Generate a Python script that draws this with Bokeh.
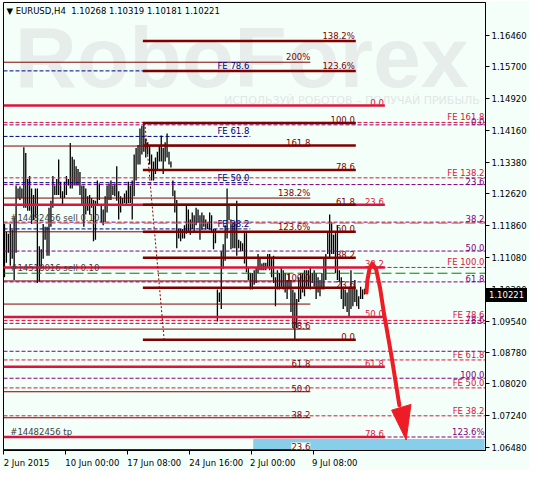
from bokeh.plotting import figure
from bokeh.models import FixedTicker, PrintfTickFormatter, ColumnDataSource, Div
from bokeh.layouts import column
from bokeh.embed import file_html
from bokeh.resources import INLINE
from bokeh.core.properties import value

FONT = "DejaVu Sans"
FS = "8.5px"

# ---------------- data ----------------
title_text = "\u25BC EURUSD,H4\u00a0 1.10268 1.10319 1.10181 1.10221"
last_close = 1.10221

bar_high = [
    1.1189, 1.1170, 1.1165, 1.1189, 1.1175, 1.1205, 1.1282, 1.1275, 1.1280, 1.1275,
    1.1375, 1.1361, 1.1298, 1.1305, 1.1275, 1.1259, 1.1275, 1.1275, 1.1135, 1.1128,
    1.1189, 1.1182, 1.1182, 1.1228, 1.1245, 1.1305, 1.1282, 1.1298, 1.1345, 1.1291,
    1.1268, 1.1291, 1.1305, 1.1298, 1.1385, 1.1352, 1.1345, 1.1329, 1.1322, 1.1315,
    1.1282, 1.1282, 1.1275, 1.1256, 1.1259, 1.1252,
    1.1247, 1.1245, 1.1294, 1.1287, 1.1233, 1.1224, 1.1256, 1.1282, 1.1287, 1.1294,
    1.1282, 1.1287, 1.1329, 1.1268, 1.1256, 1.1252, 1.1263, 1.1270, 1.1291, 1.1282,
    1.1294, 1.1357, 1.1373, 1.1380, 1.1420, 1.1427, 1.1434, 1.1396, 1.1387, 1.1380,
    1.1357, 1.1340, 1.1350, 1.1364, 1.1380, 1.1403, 1.1373, 1.1387, 1.1408, 1.1364,
    1.1340, 1.1294, 1.1270, 1.1247, 1.1177, 1.1177, 1.1177,
    1.1186, 1.1233, 1.1224, 1.1200, 1.1217, 1.1210, 1.1228, 1.1224, 1.1210, 1.1217,
    1.1210, 1.1200, 1.1193, 1.1217, 1.1210, 1.1177, 1.1177, 1.1030, 1.1023, 1.1123,
    1.1140, 1.1186, 1.1275, 1.1235, 1.1200, 1.1193, 1.1193, 1.1245, 1.1151, 1.1147,
    1.1142, 1.1170, 1.1170, 1.1084, 1.1070, 1.1070, 1.1077, 1.1084, 1.1116, 1.1107,
    1.1093, 1.1095, 1.1095, 1.1116, 1.1116, 1.1107, 1.1112,
    1.1060, 1.1077, 1.1070, 1.1084, 1.1077, 1.1070, 1.1053, 1.1070, 1.1053, 1.1030,
    1.1023, 1.1007, 1.1060, 1.1070, 1.1070, 1.1077, 1.1077, 1.1077, 1.1084, 1.1070,
    1.1077, 1.1070, 1.1060, 1.1053, 1.1070, 1.1107, 1.1116, 1.1170, 1.1212, 1.1193,
    1.1163, 1.1170, 1.1186, 1.1077, 1.1060, 1.1037, 1.1030, 1.1023, 1.1037, 1.1077,
    1.1037, 1.1053, 1.1030, 1.1014, 1.1037, 1.1030, 1.10319,
]
bar_low = [
    1.1060, 1.1095, 1.1119, 1.1088, 1.1105, 1.1053, 1.1119, 1.1252, 1.1247, 1.1252,
    1.1228, 1.1228, 1.1221, 1.1221, 1.1189, 1.1198, 1.1205, 1.1046, 1.1049, 1.1081,
    1.1105, 1.1151, 1.1112, 1.1112, 1.1182, 1.1228, 1.1259, 1.1259, 1.1259, 1.1252,
    1.1235, 1.1252, 1.1259, 1.1282, 1.1275, 1.1275, 1.1282, 1.1282, 1.1282, 1.1259,
    1.1235, 1.1182, 1.1212, 1.1221, 1.1212, 1.1228,
    1.1147, 1.1151, 1.1233, 1.1247, 1.1193, 1.1186, 1.1193, 1.1217, 1.1247, 1.1247,
    1.1259, 1.1256, 1.1245, 1.1200, 1.1217, 1.1233, 1.1240, 1.1233, 1.1240, 1.1240,
    1.1200, 1.1256, 1.1294, 1.1333, 1.1333, 1.1357, 1.1364, 1.1350, 1.1357, 1.1333,
    1.1294, 1.1294, 1.1310, 1.1317, 1.1340, 1.1340, 1.1310, 1.1340, 1.1350, 1.1333,
    1.1326, 1.1256, 1.1217, 1.1130, 1.1154, 1.1147, 1.1154,
    1.1154, 1.1165, 1.1170, 1.1163, 1.1177, 1.1170, 1.1186, 1.1193, 1.1151, 1.1175,
    1.1182, 1.1175, 1.1177, 1.1175, 1.1170, 1.1128, 1.1142, 1.0953, 1.1000, 1.0983,
    1.1081, 1.1100, 1.1154, 1.1198, 1.1128, 1.1130, 1.1130, 1.1112, 1.1130, 1.1123,
    1.1123, 1.1093, 1.1072, 1.1053, 1.1030, 1.1030, 1.1042, 1.1046, 1.1070, 1.1077,
    1.1077, 1.1077, 1.1077, 1.1084, 1.1077, 1.1060, 1.1046,
    1.0990, 1.1030, 1.1030, 1.1037, 1.1030, 1.1023, 1.1007, 1.1030, 1.0976, 1.0937,
    1.0909, 1.0937, 1.1000, 1.1007, 1.1023, 1.1014, 1.1037, 1.1037, 1.1030, 1.1046,
    1.1037, 1.1007, 1.1023, 1.1014, 1.1030, 1.1030, 1.1053, 1.1116, 1.1107, 1.1116,
    1.1116, 1.1070, 1.1053, 1.1049, 1.1007, 1.0983, 1.0990, 1.0976, 1.0965, 1.0983,
    1.0990, 1.1000, 1.0990, 1.0983, 1.1007, 1.1007, 1.10181,
]

y_ticks = [1.16460, 1.15700, 1.14920, 1.14160, 1.13380, 1.12620, 1.11860,
           1.11080, 1.10300, 1.09540, 1.08780, 1.08020, 1.07240, 1.06480]
x_tick_labels = ["2 Jun 2015", "10 Jun 00:00", "17 Jun 08:00",
                 "24 Jun 16:00", "2 Jul 00:00", "9 Jul 08:00"]
x_tick_bars = [-0.5, 31.5, 63.5, 95.5, 127.5, 159.5]

# Fibonacci objects (price levels and their captions)
maroon_thick_levels = [1.16320, 1.15597, 1.14337, 1.13788, 1.13194, 1.12354,
                       1.11700, 1.11070, 1.10347, 1.09087]
maroon_thick_labels = ["138.2%", "123.6%", "100.0", "", "78.6", "61.8",
                       "50.0", "38.2", "23.6", "0.0"]
maroon_thin_levels = [1.15807, 1.13777, 1.12517, 1.11700, 1.10510, 1.09950,
                      1.09344, 1.08434, 1.07827, 1.07197, 1.06427]
maroon_thin_labels = ["200%", "161.8", "138.2%", "123.6%", "100.0", "",
                      "78.6", "61.8", "50.0", "38.2", "23.6"]
crimson_levels = [1.14757, 1.12354, 1.10837, 1.09636, 1.08434, 1.06731]
crimson_labels = ["0.0", "23.6", "38.2", "50.0", "61.8", "78.6"]
fe_red_levels = [1.14349, 1.13007, 1.10837, 1.09554, 1.08597, 1.07920, 1.07244]
fe_red_labels = ["FE 161.8", "FE 138.2", "FE 100.0", "FE 78.6", "FE 61.8",
                 "FE 50.0", "FE 38.2"]
purple_levels = [1.14290, 1.12844, 1.11934, 1.11234, 1.10487, 1.09484,
                 1.08807, 1.08154, 1.06731]
purple_labels = ["0.0", "23.6", "38.2", "50.0", "61.8", "78.6", "", "100.0", "123.6%"]
navy_levels = [1.15597, 1.14010, 1.12890, 1.11770]
navy_labels = ["FE 78.6", "FE 61.8", "FE 50.0", "FE 38.2"]
order_sl_level = 1.11910
order_open_level = 1.10697
order_labels = ["#14482456 sell 0.10", "#14518016 sell 0.10", "#14482456 tp"]
order_label_levels = [1.11910, 1.10697, 1.06731]

trend_x = [72.5, 82.5]
trend_y = [1.14337, 1.09087]
zone_x = [128.5, 248.0]
zone_y = [1.06404, 1.06684]

arrow_x = [187, 187.5, 188.5, 190, 192, 194, 196, 200, 204]
arrow_y = [1.1023, 1.1053, 1.1079, 1.1093, 1.1079, 1.1035, 1.0974, 1.0867, 1.0750]
arrowhead_x = [200, 210, 207.5]
arrowhead_y = [1.0738, 1.0752, 1.0666]

# ---------------- figure ----------------
W, H = 529, 470
BL, BR, BT, BB = 3, 44, 2, 19
X0, X1 = -0.5, 248.5
Y0, Y1 = 1.06404, 1.17253
BG = "#F5FFFA"
MAROON = "#800000"
CRIMSON = "#DC143C"
PURPLE = "#800080"
NAVY = "#000080"

p = figure(width=W, height=H, x_range=(X0, X1), y_range=(Y0, Y1),
           output_backend="svg", toolbar_location=None, y_axis_location="right",
           min_border_left=BL, min_border_right=BR, min_border_top=BT, min_border_bottom=BB)
p.background_fill_color = BG
p.border_fill_color = BG
p.outline_line_color = "black"
p.grid.visible = False

# watermark
p.text(x=[122.5], y=[1.15935], text=["RoboForex"], text_font=value("Liberation Sans"),
       text_font_style="bold", text_font_size="86px", text_color="#E6EDEA",
       text_align="center", text_baseline="middle")
p.text(x=[179.5], y=[1.14873], text=["\u0418\u0421\u041f\u041e\u041b\u042c\u0417\u0423\u0419 \u0420\u041e\u0411\u041e\u0422\u041e\u0412 \u2013 \u041f\u041e\u041b\u0423\u0427\u0410\u0419 \u041f\u0420\u0418\u0411\u042b\u041b\u042c"],
       text_font=value(FONT), text_font_size="11px", text_color="#E0E7E4",
       text_align="center", text_baseline="middle")

# take-profit zone
p.quad(left=[zone_x[0]], right=[zone_x[1]], bottom=[Y0 - 0.001], top=[zone_y[1]],
       fill_color="#87CEEB", line_color=None)

# bars
n = len(bar_high)
bars = ColumnDataSource(dict(x=list(range(n)), h=bar_high, l=bar_low))
p.segment(x0="x", y0="l", x1="x", y1="h", source=bars, line_color="black", line_width=1.3)


def hlines(levels, x0, x1, color, width=1, dash="solid"):
    src = ColumnDataSource(dict(y=levels, x0=[x0] * len(levels), x1=[x1] * len(levels)))
    p.segment(x0="x0", y0="y", x1="x1", y1="y", source=src, line_color=color,
              line_width=width, line_dash=dash)


def captions(levels, labels, x, color, align="right", bg=None):
    pairs = [(lv, lb) for lv, lb in zip(levels, labels) if lb]
    src = ColumnDataSource(dict(y=[a for a, _ in pairs], t=[b for _, b in pairs],
                                x=[x] * len(pairs)))
    kw = {}
    if bg:
        kw = dict(background_fill_color=bg)
    p.text(x="x", y="y", text="t", source=src, text_font=value(FONT), text_font_size=FS,
           text_color=color, text_align=align, text_baseline="bottom", **kw)


hlines(purple_levels, X0, X1, PURPLE, 1, "4 2")
hlines(fe_red_levels, X0, X1, CRIMSON, 1, "4 2")
hlines(navy_levels, X0, 127.0, NAVY, 1, "4 2")
hlines([order_sl_level], X0, X1, "#F0501E", 1, "10 4")
hlines([order_open_level], X0, X1, "#008000", 1, "10 4")
hlines(maroon_thin_levels, X0, 158.0, MAROON, 1)
hlines(crimson_levels, X0, 196.5, CRIMSON, 2.5)
hlines(maroon_thick_levels, 71.5, 181.5, MAROON, 2.5)

p.line(trend_x, trend_y, line_color=MAROON, line_width=1, line_dash="2 2")

captions(purple_levels, purple_labels, 248.0, PURPLE)
captions(fe_red_levels, fe_red_labels, 248.0, CRIMSON)
captions(navy_levels, navy_labels, 126.5, NAVY)
captions(maroon_thin_levels[:-1], maroon_thin_labels[:-1], 158.0, MAROON)
captions(maroon_thin_levels[-1:], maroon_thin_labels[-1:], 158.0, MAROON, bg=BG)
captions(crimson_levels, crimson_labels, 196.0, CRIMSON)
captions(maroon_thick_levels, maroon_thick_labels, 181.0, MAROON)
captions(order_label_levels, order_labels, 3.0, "#404040", align="left")

# arrow
p.line(arrow_x, arrow_y, line_color="#EE1C24", line_width=4, line_cap="round",
       line_join="round")
p.patch(arrowhead_x, arrowhead_y, fill_color="#EE1C24", line_color="#EE1C24", line_width=1)

# title
p.text(x=[1.0], y=[1.17043], text=[title_text], text_font=value(FONT), text_font_size=FS,
       text_color="black", text_align="left", text_baseline="middle")

# axes
ya = p.yaxis[0]
ya.ticker = FixedTicker(ticks=y_ticks)
ya.formatter = PrintfTickFormatter(format="%.5f")
ya.major_tick_out = 4
ya.major_tick_in = 0
ya.minor_tick_out = 0
ya.minor_tick_in = 0
ya.major_label_standoff = 2
ya.major_label_text_font = FONT
ya.major_label_text_font_size = FS
ya.major_label_text_color = "black"
ya.axis_line_color = "black"

half_w = [11.9, 13.9, 13.9, 13.9, 11.1, 11.1]
centers = [b + w for b, w in zip(x_tick_bars, half_w)]
xa = p.xaxis[0]
xa.ticker = FixedTicker(ticks=centers, minor_ticks=x_tick_bars)
xa.major_label_overrides = {c: t for c, t in zip(centers, x_tick_labels)}
xa.major_tick_out = 0
xa.major_tick_in = 0
xa.minor_tick_out = 4
xa.minor_tick_in = 0
xa.minor_tick_line_color = "black"
xa.major_label_standoff = 3
xa.major_label_text_font = FONT
xa.major_label_text_font_size = FS
xa.major_label_text_color = "black"
xa.axis_line_color = "black"

# last-price marker on the price scale (HTML overlay, since plot annotations are
# clipped to the frame)
frame_h = H - BT - BB
box_h = 14
y_mid = BT + (Y1 - last_close) / (Y1 - Y0) * frame_h
box_top = int(round(y_mid - box_h / 2))
price_box = Div(
    text=('<div style="background:#000;color:#fff;font-family:\'DejaVu Sans\';'
          'font-size:8.5px;line-height:%dpx;height:%dpx;width:41px;'
          'padding-left:3px;white-space:nowrap;">%.5f</div>') % (box_h, box_h, last_close),
    width=44, height=box_h,
    margin=(box_top - H, 0, 0, W - BR + 1),
    styles={"position": "relative", "z-index": "10"},
)

layout = column(p, price_box, spacing=0)
open("out.html", "w").write(file_html(layout, INLINE))
